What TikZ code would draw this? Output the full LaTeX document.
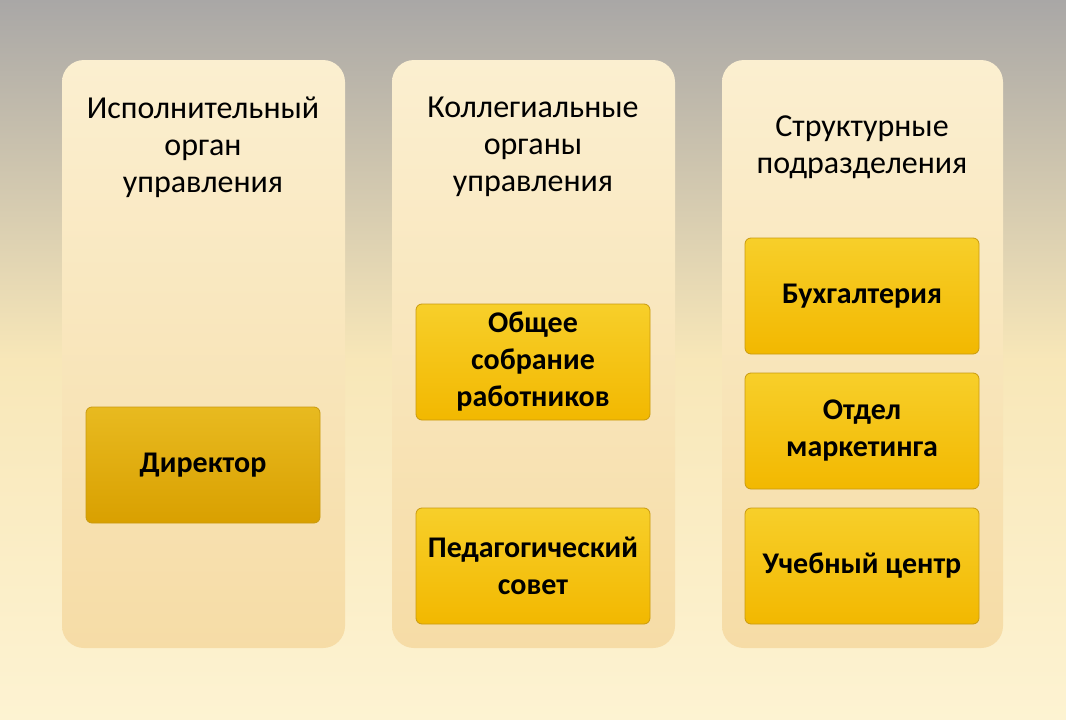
\documentclass[tikz,border=0pt]{standalone}
\usepackage{fontspec}
\setmainfont{Carlito}
\usetikzlibrary{backgrounds}
\begin{document}
\begin{tikzpicture}[x=1pt,y=-1pt,
  panel/.style={rounded corners=22pt,top color=panelT,bottom color=panelB,draw=none},
  title/.style={align=center,font=\fontsize{32}{37}\selectfont,text=black},
  box/.style={rounded corners=6pt,draw=boxD,line width=0.8pt,top color=boxT,bottom color=boxB,
    minimum width=234pt,minimum height=116pt,align=center,font=\bfseries\fontsize{30}{37}\selectfont,inner sep=1pt},
  link/.style={draw=lineC,line width=0.8pt}]
\definecolor{bgT}{HTML}{A9A7A6}
\definecolor{bgM}{HTML}{F8E7B8}
\definecolor{bgB}{HTML}{FDF3D2}
\definecolor{panelT}{HTML}{FBEFD0}
\definecolor{panelB}{HTML}{F6DCA6}
\definecolor{boxT}{HTML}{F7CF2A}
\definecolor{boxB}{HTML}{F2B800}
\definecolor{boxD}{HTML}{C99A10}
\definecolor{dirT}{HTML}{E8BA20}
\definecolor{dirB}{HTML}{D9A000}
\definecolor{lineC}{HTML}{F5D878}
\useasboundingbox (0,0) rectangle (1066,720);
\node[title] (t1) at (203,147) {Исполнительный\\орган\\управления};
\node[title] (t2) at (533,147) {Коллегиальные\\органы\\управления};
\node[title] (t3) at (862,147) {Структурные\\подразделения};
\node[box,top color=dirT,bottom color=dirB] (dir) at (203,465) {Директор};
\node[box] (os) at (533,362) {Общее\\собрание\\работников};
\node[box] (ps) at (533,566) {Педагогический\\совет};
\node[box] (bu) at (862,296) {Бухгалтерия};
\node[box] (om) at (862,431) {Отдел\\маркетинга};
\node[box] (uc) at (862,566) {Учебный центр};
\begin{scope}[on background layer]
\draw[link] (dir.east) -- (os.west);
\draw[link] (dir.east) -- (ps.west);
\draw[link] (os.east) -- (bu.west);
\draw[link] (os.east) -- (om.west);
\draw[link,draw=boxD!70] (os.east) -- (uc.west);
\draw[link] (ps.east) -- (uc.west);
\end{scope}
\begin{scope}[on background layer]
\shade[top color=bgT,bottom color=bgM] (0,0) rectangle (1066,360);
\shade[top color=bgM,bottom color=bgB] (0,360) rectangle (1066,720);
\path[panel] (62,60) rectangle (345,648);
\path[panel] (392,60) rectangle (675,648);
\path[panel] (722,60) rectangle (1003,648);
\end{scope}
\end{tikzpicture}
\end{document}
